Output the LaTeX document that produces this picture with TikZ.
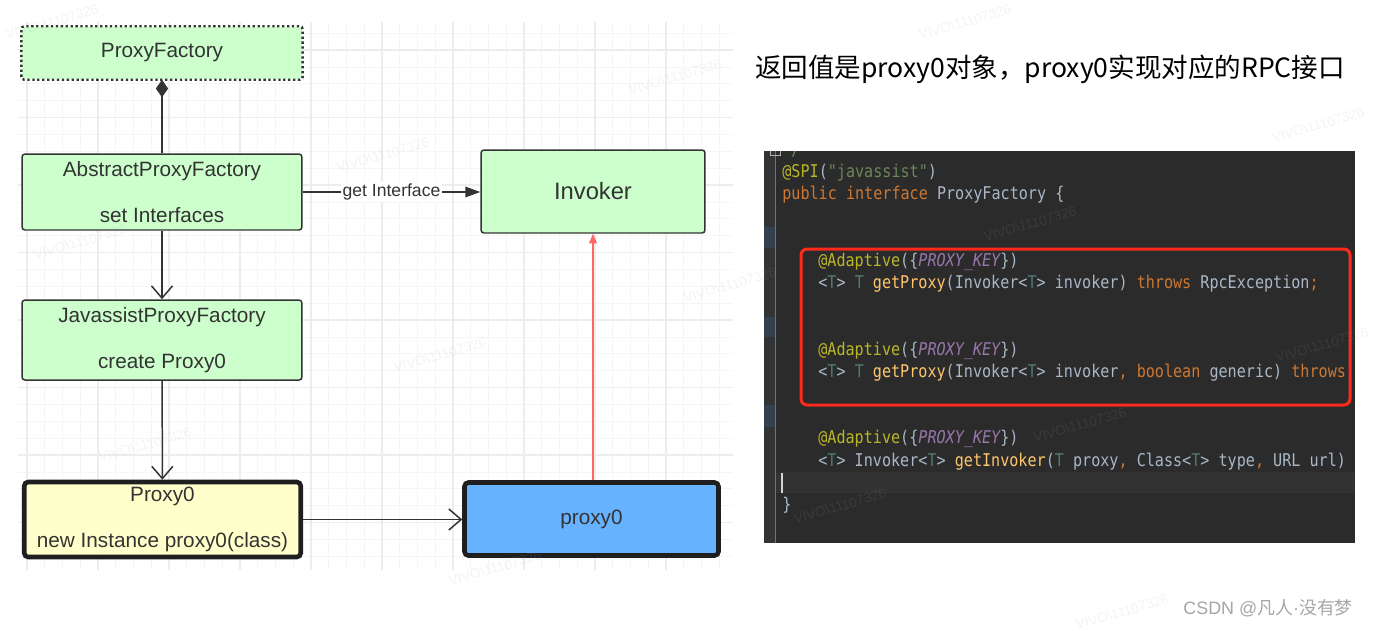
\documentclass[tikz,border=0pt]{standalone}
\usepackage{fontspec}
\setmainfont{Liberation Sans}
\newfontfamily\cjk{Noto Sans CJK SC}
\newfontfamily\codefont[FakeStretch=0.86, Ligatures=TeXOff]{DejaVu Sans Mono}
\usetikzlibrary{arrows.meta}

% diagram colours
\definecolor{boxgreen}{HTML}{CCFFCC}
\definecolor{boxyellow}{HTML}{FFFFCC}
\definecolor{boxblue}{HTML}{66B2FF}
\definecolor{lineDark}{HTML}{333333}
\definecolor{arrowRed}{HTML}{FF6666}
% darcula colours
\definecolor{codeBg}{HTML}{2B2B2B}
\definecolor{gutterBg}{HTML}{313335}
\definecolor{gutterMark}{HTML}{33404D}
\definecolor{curLine}{HTML}{323232}
\definecolor{codePlain}{HTML}{A9B7C6}
\definecolor{annYellow}{HTML}{BBB529}
\definecolor{strGreen}{HTML}{6A8759}
\definecolor{docGreen}{HTML}{629755}
\definecolor{kwOrange}{HTML}{CC7832}
\definecolor{constPurple}{HTML}{9876AA}
\definecolor{typeTeal}{HTML}{507874}
\definecolor{methodGold}{HTML}{FFC66D}
\definecolor{codeRed}{HTML}{FF2A1A}

\tikzset{
  umlbox/.style   = {draw=lineDark, line width=0.85pt, rounded corners=1.7pt,
                     fill=boxgreen, text=lineDark, align=center, inner sep=0pt,
                     minimum width=5.6cm, font=\fontsize{11.8}{14}\selectfont},
  heavybox/.style = {umlbox, draw=black!88, line width=2.6pt, rounded corners=2.2pt},
  conn/.style     = {draw=lineDark, line width=0.85pt},
  openarrow/.style = {-{Straight Barb[length=7pt,width=12pt]}},
  linklabel/.style = {fill=white, inner sep=1pt, text=lineDark,
                      font=\fontsize{10}{12}\selectfont},
  codeline/.style = {anchor=base west, inner sep=0pt, text=codePlain,
                     font=\codefont\fontsize{10}{12}\selectfont},
  wmark/.style    = {text=gray!70, text opacity=0.12, rotate=16, inner sep=0pt,
                     font=\fontsize{7.8}{9}\selectfont},
}

\begin{document}
\begin{tikzpicture}[x=0.02cm, y=-0.02cm]

\useasboundingbox (0,0) rectangle (1375,630);
\fill[white] (0,0) rectangle (1375,630);

% ── Grid paper behind the class diagram ───────────────────────────────
\foreach \i in {0,...,39}
  \draw[gray!8, line width=0.4pt] ({27+17.75*\i},22) -- ({27+17.75*\i},570);
\foreach \j in {0,...,31}
  \draw[gray!8, line width=0.4pt] (18,{33.125+16.875*\j}) -- (733,{33.125+16.875*\j});
\foreach \i in {0,...,9}
  \draw[gray!14, line width=0.6pt] ({27+71*\i},22) -- ({27+71*\i},570);
\foreach \j in {0,...,7}
  \draw[gray!14, line width=0.6pt] (18,{50+67.5*\j}) -- (733,{50+67.5*\j});

% ── Classes ───────────────────────────────────────────────────────────
\node[umlbox, draw=none, minimum height=1.04cm] (proxyFactory) at (162,53)
  {ProxyFactory};
\draw[lineDark, line width=1.4pt, dash pattern=on 1.3pt off 1.5pt, rounded corners=1.7pt]
  (proxyFactory.south west) rectangle (proxyFactory.north east);

\node[umlbox, minimum height=1.52cm] (abstractFactory) at (162,192)
  {AbstractProxyFactory\\[12.6pt]set Interfaces};
\node[umlbox, minimum height=1.6cm] (javassistFactory) at (162,340)
  {JavassistProxyFactory\\[12.6pt]create Proxy0};
\node[heavybox, fill=boxyellow, minimum width=5.53cm, minimum height=1.5cm] (proxyClass)
  at (162.5,519.5) {Proxy0\\[12.6pt]new Instance proxy0(class)};

\node[umlbox, minimum width=4.48cm, minimum height=1.66cm,
      font=\fontsize{13.5}{16}\selectfont] (invoker) at (593,191.5) {Invoker};
\node[heavybox, fill=boxblue, minimum width=5.08cm, minimum height=1.46cm] (proxyObj)
  at (591.5,519) {proxy0};

% ── Relations ─────────────────────────────────────────────────────────
\draw[conn, -{Diamond[length=10pt,width=7pt]}] (abstractFactory) -- (proxyFactory);
\draw[conn, openarrow] (abstractFactory) -- (javassistFactory);
\draw[conn, openarrow] (javassistFactory) -- (proxyClass);
\draw[conn, -{Triangle[length=8.5pt,width=6pt]}]
  (abstractFactory.east) -- node[linklabel] (getIf) {get Interface}
  (abstractFactory.east -| invoker.west);
\draw[conn, openarrow] (proxyClass.east) -- (proxyClass.east -| proxyObj.west);
\draw[arrowRed, line width=0.6pt, -{Triangle[length=5.5pt,width=4.5pt]}]
  (proxyObj.north -| invoker.south) -- (invoker.south);

% ── Caption over the code ─────────────────────────────────────────────
\node[anchor=base west, inner sep=0pt, text=black,
      font=\cjk\fontsize{15.1}{18}\selectfont] (caption) at (755,77)
  {返回值是proxy0对象，proxy0实现对应的RPC接口};

% ── IDE screenshot: ProxyFactory interface ────────────────────────────
\fill[codeBg] (764,151) rectangle (1355,543);
\fill[gutterBg] (764,151) rectangle (775,543);
\fill[curLine] (776,472) rectangle (1355,493);
\foreach \ya/\yb in {227/248, 317/337, 405/427}
  \fill[gutterMark] (764,\ya) rectangle (775,\yb);
\draw[black!55, line width=0.5pt] (775.5,151) -- (775.5,543);

\begin{scope}
\clip (764,151) rectangle (1355,543);
\draw[gray!60, line width=0.5pt] (770,144) rectangle (780,155);
\node[codeline, text=docGreen] (c0) at (782,155.3) {*/};
\node[codeline] (c1) at (782,177.5)
  {\textcolor{annYellow}{@SPI}(\textcolor{strGreen}{"javassist"})};
\node[codeline] (c2) at (782,199.7)
  {\textcolor{kwOrange}{public interface} ProxyFactory \{};

\node[codeline] (c3) at (818,266.3)
  {\textcolor{annYellow}{@Adaptive}(\{\textcolor{constPurple}{\itshape PROXY\_KEY}\})};
\node[codeline] (c4) at (818,288.5)
  {<\textcolor{typeTeal}{T}> \textcolor{typeTeal}{T} \textcolor{methodGold}{getProxy}(Invoker<\textcolor{typeTeal}{T}> invoker) \textcolor{kwOrange}{throws} RpcException\textcolor{kwOrange}{;}};

\node[codeline] (c5) at (818,355.1)
  {\textcolor{annYellow}{@Adaptive}(\{\textcolor{constPurple}{\itshape PROXY\_KEY}\})};
\node[codeline] (c6) at (818,377.3)
  {<\textcolor{typeTeal}{T}> \textcolor{typeTeal}{T} \textcolor{methodGold}{getProxy}(Invoker<\textcolor{typeTeal}{T}> invoker\textcolor{kwOrange}{, boolean} generic) \textcolor{kwOrange}{throws}};

\node[codeline] (c7) at (818,443.9)
  {\textcolor{annYellow}{@Adaptive}(\{\textcolor{constPurple}{\itshape PROXY\_KEY}\})};
\node[codeline] (c8) at (818,466.1)
  {<\textcolor{typeTeal}{T}> Invoker<\textcolor{typeTeal}{T}> \textcolor{methodGold}{getInvoker}(\textcolor{typeTeal}{T} proxy\textcolor{kwOrange}{,} Class<\textcolor{typeTeal}{T}> type\textcolor{kwOrange}{,} URL url)};

\node[codeline] (c9) at (782,510.5) {\}};
\end{scope}

% cursor and highlight frame
\draw[gray!35, line width=1.2pt] (782,473) -- (782,493);
\draw[codeRed, line width=1.7pt, rounded corners=3.5pt] (801,249) rectangle (1350,405);

% ── Watermarks ────────────────────────────────────────────────────────
\foreach \wx/\wy [count=\k] in {52/22, 383/155, 675/77, 80/242, 730/285, 440/355,
    145/445, 1318/125, 1080/425, 840/506, 495/568, 1030/224, 1322/345,
    1122/612, 965/22}
  \node[wmark] (wm\k) at (\wx,\wy) {VIVO\textbackslash 11107326};

\node[anchor=base west, inner sep=0pt, text=gray!70,
      font=\cjk\fontsize{10.2}{12}\selectfont] (csdn) at (1183,614)
  {{\rmfamily CSDN @}凡人{\rmfamily ·}没有梦};

\end{tikzpicture}
\end{document}
